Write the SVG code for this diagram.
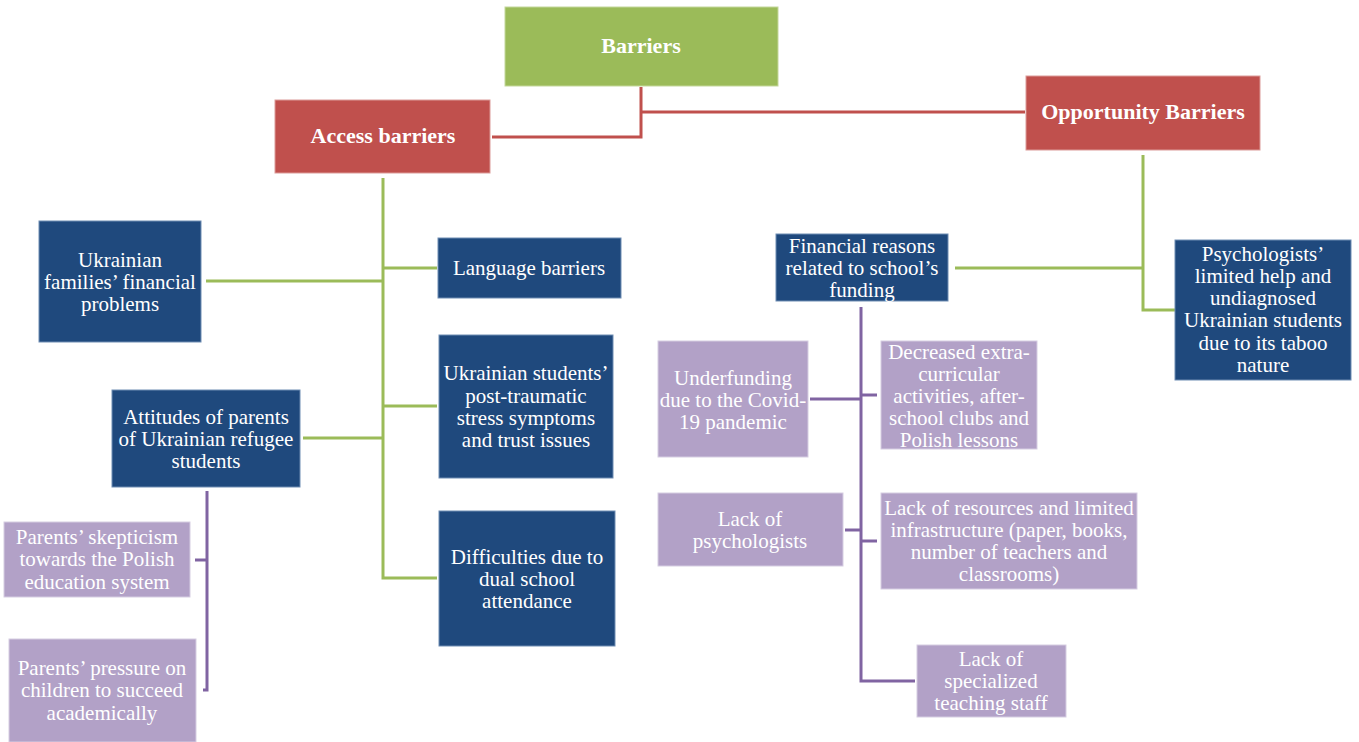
<svg xmlns="http://www.w3.org/2000/svg" width="1359" height="742" viewBox="0 0 1359 742">
  <style>
    .t { font-family: "Times New Roman", Tinos, "Liberation Serif", serif; font-size: 21px; fill: #ffffff; text-anchor: middle; }
    .h { font-family: "Times New Roman", Tinos, "Liberation Serif", serif; font-size: 22px; font-weight: bold; fill: #ffffff; text-anchor: middle; }
    .green { fill: #9BBB59; stroke: #c4d79b; stroke-width: 1; }
    .red { fill: #C0504D; stroke: #dc9b99; stroke-width: 1; }
    .blue { fill: #1F497D; stroke: #6f8db3; stroke-width: 1; }
    .lav { fill: #B2A1C7; stroke: #d6cde2; stroke-width: 1; }
    .cr { stroke: #C0504D; stroke-width: 3; fill: none; }
    .cg { stroke: #9BBB59; stroke-width: 3; fill: none; }
    .cp { stroke: #8064A2; stroke-width: 3; fill: none; }
  </style>
  <rect width="1359" height="742" fill="#ffffff"/>

  <!-- connectors -->
  <g id="connectors">
    <path class="cr" d="M641,87 V137 H492"/>
    <path class="cr" d="M641,112 H1025"/>
    <!-- access barriers branch -->
    <path class="cg" d="M383,178 V578 H437"/>
    <path class="cg" d="M383,268 H437"/>
    <path class="cg" d="M206,281 H383"/>
    <path class="cg" d="M383,406 H437"/>
    <path class="cg" d="M303,438 H383"/>
    <!-- attitudes sub-branch -->
    <path class="cp" d="M207,491 V690 H203"/>
    <path class="cp" d="M195,560 H207"/>
    <!-- opportunity barriers branch -->
    <path class="cg" d="M1143,155 V310 H1175"/>
    <path class="cg" d="M955,268 H1143"/>
    <!-- financial reasons sub-branch -->
    <path class="cp" d="M861,307 V681 H915"/>
    <path class="cp" d="M810,399 H861"/>
    <path class="cp" d="M861,395 H877"/>
    <path class="cp" d="M845,530 H861"/>
    <path class="cp" d="M861,541 H877"/>
  </g>

  <g id="barriers">
    <rect class="green" x="505" y="7" width="273" height="79"/>
    <text class="h" x="641" y="53">Barriers</text>
  </g>

  <g id="access-barriers">
    <rect class="red" x="275" y="100" width="215" height="73"/>
    <text class="h" x="383" y="143">Access barriers</text>
  </g>

  <g id="opportunity-barriers">
    <rect class="red" x="1026" y="76" width="234" height="74"/>
    <text class="h" x="1143" y="119">Opportunity Barriers</text>
  </g>

  <g id="families-financial">
    <rect class="blue" x="39" y="221" width="162" height="121"/>
    <text class="t" x="120" y="267">Ukrainian</text>
    <text class="t" x="120" y="289">families’ financial</text>
    <text class="t" x="120" y="311">problems</text>
  </g>

  <g id="language-barriers">
    <rect class="blue" x="438" y="238" width="183" height="60"/>
    <text class="t" x="529" y="275">Language barriers</text>
  </g>

  <g id="post-traumatic">
    <rect class="blue" x="439" y="335" width="174" height="143"/>
    <text class="t" x="526" y="380">Ukrainian students’</text>
    <text class="t" x="526" y="403">post-traumatic</text>
    <text class="t" x="526" y="425">stress symptoms</text>
    <text class="t" x="526" y="447">and trust issues</text>
  </g>

  <g id="parents-attitudes">
    <rect class="blue" x="112" y="390" width="188" height="97"/>
    <text class="t" x="206" y="424">Attitudes of parents</text>
    <text class="t" x="206" y="446">of Ukrainian refugee</text>
    <text class="t" x="206" y="468">students</text>
  </g>

  <g id="dual-attendance">
    <rect class="blue" x="439" y="511" width="176" height="135"/>
    <text class="t" x="527" y="564">Difficulties due to</text>
    <text class="t" x="527" y="586">dual school</text>
    <text class="t" x="527" y="608">attendance</text>
  </g>

  <g id="parents-skepticism">
    <rect class="lav" x="4" y="522" width="186" height="75"/>
    <text class="t" x="97" y="544">Parents’ skepticism</text>
    <text class="t" x="97" y="566">towards the Polish</text>
    <text class="t" x="97" y="589">education system</text>
  </g>

  <g id="parents-pressure">
    <rect class="lav" x="9" y="639" width="187" height="103"/>
    <text class="t" x="102" y="675">Parents’ pressure on</text>
    <text class="t" x="102" y="697">children to succeed</text>
    <text class="t" x="102" y="720">academically</text>
  </g>

  <g id="financial-reasons">
    <rect class="blue" x="776" y="234" width="172" height="67"/>
    <text class="t" x="862" y="253">Financial reasons</text>
    <text class="t" x="862" y="275">related to school’s</text>
    <text class="t" x="862" y="297">funding</text>
  </g>

  <g id="psychologists-help">
    <rect class="blue" x="1175" y="240" width="176" height="140"/>
    <text class="t" x="1263" y="261">Psychologists’</text>
    <text class="t" x="1263" y="283">limited help and</text>
    <text class="t" x="1263" y="305">undiagnosed</text>
    <text class="t" x="1263" y="327">Ukrainian students</text>
    <text class="t" x="1263" y="350">due to its taboo</text>
    <text class="t" x="1263" y="372">nature</text>
  </g>

  <g id="underfunding">
    <rect class="lav" x="658" y="341" width="150" height="116"/>
    <text class="t" x="733" y="385">Underfunding</text>
    <text class="t" x="733" y="407">due to the Covid-</text>
    <text class="t" x="733" y="429">19 pandemic</text>
  </g>

  <g id="decreased-activities">
    <rect class="lav" x="881" y="341" width="156" height="108"/>
    <text class="t" x="959" y="359">Decreased extra-</text>
    <text class="t" x="959" y="381">curricular</text>
    <text class="t" x="959" y="403">activities, after-</text>
    <text class="t" x="959" y="425">school clubs and</text>
    <text class="t" x="959" y="447">Polish lessons</text>
  </g>

  <g id="lack-psychologists">
    <rect class="lav" x="658" y="493" width="185" height="73"/>
    <text class="t" x="750" y="526">Lack of</text>
    <text class="t" x="750" y="548">psychologists</text>
  </g>

  <g id="lack-resources">
    <rect class="lav" x="881" y="493" width="256" height="96"/>
    <text class="t" x="1009" y="515">Lack of resources and limited</text>
    <text class="t" x="1009" y="537">infrastructure (paper, books,</text>
    <text class="t" x="1009" y="559">number of teachers and</text>
    <text class="t" x="1009" y="581">classrooms)</text>
  </g>

  <g id="specialized-staff">
    <rect class="lav" x="917" y="645" width="149" height="72"/>
    <text class="t" x="991" y="666">Lack of</text>
    <text class="t" x="991" y="688">specialized</text>
    <text class="t" x="991" y="710">teaching staff</text>
  </g>
</svg>
